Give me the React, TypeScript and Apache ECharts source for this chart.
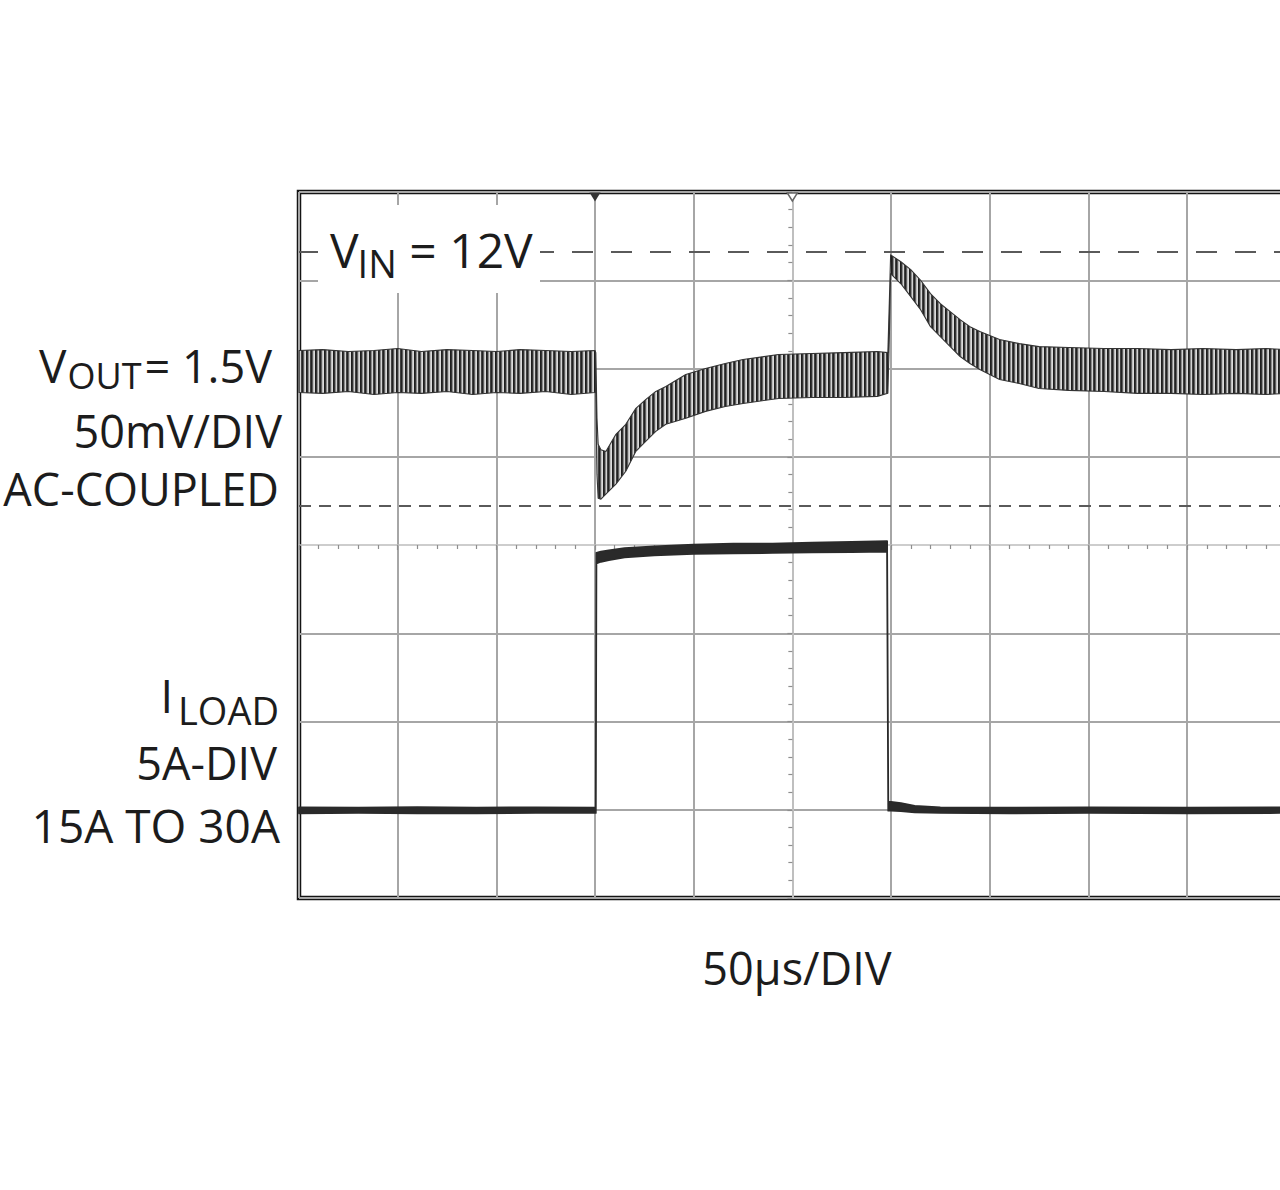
import React, { useEffect, useRef } from "react";
import * as echarts from "echarts";

// ---------------- DATA ----------------
// time axis in µs (50 µs/DIV, 10 divisions)
const timeMin = 0;
const timeMax = 500;
const timeStep = 50;
// VOUT, AC-coupled, mV (50 mV/DIV)
const voutMin = -300;
const voutMax = 100;
const voutStep = 50;
// ILOAD, A (5 A/DIV)
const iloadMin = 10;
const iloadMax = 50;
const iloadStep = 5;

// VOUT ripple envelope (upper / lower edge of the trace), mV
const voutTime = [
  0, 12, 25, 38, 50, 62, 75, 88, 100, 112, 125, 138, 150, 150.4, 151.0, 151.6, 153, 155.5, 160.6,
  165.6, 170.7, 175.8, 180.8, 185.9, 196, 206, 216, 225, 243, 260, 276, 293, 298.4, 299.2, 299.8,
  305, 310, 315, 320, 325, 330, 335, 340, 345, 355, 365, 375, 390, 408, 425, 442, 458, 475, 490, 500,
];
const voutUpper = [
  10.2, 10.7, 9.6, 10.2, 11.3, 9.6, 10.7, 10.2, 9.6, 10.7, 10.2, 9.6, 10.2, 9.0, -28.2, -42.9, -46.0,
  -47.0, -37.3, -31.6, -22.6, -17.5, -13.0, -10.2, -3.4, 0.0, 2.8, 5.1, 7.9, 8.5, 9.0, 9.6, 9.0, 40.0,
  64.4, 60.5, 56.0, 50.0, 42.4, 36.7, 32.2, 27.7, 23.7, 20.9, 16.4, 14.1, 12.4, 11.9, 11.3, 11.3,
  10.7, 11.3, 10.7, 11.3, 10.7,
];
const voutLower = [
  -13.6, -14.1, -13.0, -14.7, -13.6, -14.1, -13.0, -14.7, -13.6, -14.1, -13.0, -14.7, -13.6, -12.0,
  -60.0, -73.5, -74.0, -71.2, -65.5, -58.2, -46.9, -41.2, -35.6, -31.6, -28.2, -24.3, -21.5, -19.8,
  -17.0, -16.4, -16.4, -15.8, -14.0, 20.0, 53.7, 48.0, 40.7, 33.3, 23.7, 18.1, 12.4, 6.8, 2.8, -0.6,
  -6.2, -8.5, -11.3, -12.4, -13.0, -14.1, -14.1, -14.7, -14.1, -14.7, -14.1,
];

// ILOAD trace envelope, A
const iloadTime = [
  0, 30, 60, 90, 120, 150.4, 150.7, 153, 157, 165, 180, 200, 220, 240, 260, 280, 298.0, 298.6, 300,
  305, 312, 325, 360, 400, 450, 500,
];
const iloadUpper = [
  15.14, 15.12, 15.15, 15.12, 15.14, 15.12, 29.55, 29.62, 29.7, 29.82, 29.92, 30.02, 30.07, 30.08,
  30.13, 30.17, 30.22, 15.45, 15.45, 15.38, 15.22, 15.14, 15.12, 15.14, 15.12, 15.14,
];
const iloadLower = [
  14.8, 14.82, 14.8, 14.8, 14.82, 14.82, 28.95, 29.05, 29.15, 29.3, 29.42, 29.5, 29.52, 29.55, 29.58,
  29.6, 29.62, 14.95, 14.95, 14.92, 14.85, 14.82, 14.8, 14.82, 14.8, 14.82,
];

// scope cursors (mV on VOUT scale) and trigger markers (µs)
const cursorPeak = 66;
const cursorDip = -78;
const triggerFilled = 150;
const triggerHollow = 250;

// ---------------- HELPERS ----------------
const FONT = '"Open Sans", "Noto Sans", sans-serif';
const INK = "#1c1c1c";

let measureCtx: CanvasRenderingContext2D | null = null;
function measure(text: string, size: number): number {
  if (!measureCtx) {
    const c = document.createElement("canvas");
    measureCtx = c.getContext("2d");
  }
  if (!measureCtx) return text.length * size * 0.55;
  measureCtx.font = `${size}px "Open Sans"`;
  return measureCtx.measureText(text).width;
}

type Piece = { text: string; size: number; dy?: number; gap?: number };

function label(pieces: Piece[], anchorX: number, baseline: number, align: "left" | "right" | "center") {
  const widths = pieces.map((p) => measure(p.text, p.size));
  const total = widths.reduce((a, b) => a + b, 0) + pieces.reduce((a, p) => a + (p.gap || 0), 0);
  let x = align === "left" ? anchorX : align === "right" ? anchorX - total : anchorX - total / 2;
  return pieces.map((p, i) => {
    x += p.gap || 0;
    const el = {
      type: "text",
      z: 101,
      x,
      y: baseline + (p.dy || 0) - 0.388 * p.size,
      style: {
        text: p.text,
        fontSize: p.size,
        fontFamily: FONT,
        fill: INK,
        textAlign: "left",
        textVerticalAlign: "middle",
      },
    };
    x += widths[i];
    return el;
  });
}

function stripePattern() {
  const cols = ["#1e1e1e", "#333333", "#8a8a8a", "#d2d2d2", "#404040", "#222222", "#5e5e5e", "#bdbdbd", "#dcdcdc"];
  const c = document.createElement("canvas");
  c.width = cols.length;
  c.height = 4;
  const g = c.getContext("2d");
  if (!g) return "#555";
  cols.forEach((col, i) => {
    g.fillStyle = col;
    g.fillRect(i, 0, 1, 4);
  });
  return { image: c, repeat: "repeat" } as any;
}

function bandSeries(times: number[], upper: number[], lower: number[], yAxisIndex: number, fill: any, stroke: string, lw: number) {
  const data = times.map((t, i) => [t, upper[i], lower[i]]);
  return {
    type: "custom",
    xAxisIndex: 0,
    yAxisIndex,
    silent: true,
    z: 3,
    data,
    encode: { x: 0, y: [1, 2] },
    renderItem: (params: any, api: any) => {
      if (params.dataIndex !== 0) return null;
      const top = data.map((d) => api.coord([d[0], d[1]]));
      const bot = data.map((d) => api.coord([d[0], d[2]])).reverse();
      return {
        type: "polygon",
        shape: { points: top.concat(bot) },
        style: { fill, stroke, lineWidth: lw, lineJoin: "round" },
      };
    },
  };
}

export default function App() {
  const ref = useRef<HTMLDivElement>(null);

  useEffect(() => {
    if (!ref.current) return;
    const chart = echarts.init(ref.current, null, { renderer: "svg" });

    const grid = "#a6a6a6";
    const xCount = (timeMax - timeMin) / timeStep + 1;
    const xGridColors = Array.from({ length: xCount }, (_, i) => (i === 5 ? "#c6c6c6" : grid));
    const yCount = (voutMax - voutMin) / voutStep + 1;
    const yGridColors = Array.from({ length: yCount }, (_, i) => (i === 4 ? "rgba(0,0,0,0)" : grid));

    const centerLine = { color: "#bdbdbd", width: 1.5 };
    const tickStyle = { color: "#8e8e8e", width: 1.2 };

    const graphics: any[] = [
      // white box behind the VIN note
      { type: "rect", z: 100, shape: { x: 318, y: 205, width: 222, height: 88 }, style: { fill: "#ffffff" } },
      ...label(
        [
          { text: "V", size: 48 },
          { text: "IN", size: 38, dy: 10, gap: -1 },
          { text: " = 12V", size: 48 },
        ],
        330,
        268,
        "left"
      ),
      ...label(
        [
          { text: "V", size: 46 },
          { text: "OUT", size: 36, dy: 6, gap: 1 },
          { text: "= 1.5V", size: 45, gap: 3 },
        ],
        272,
        383,
        "right"
      ),
      ...label([{ text: "50mV/DIV", size: 45 }], 282, 448, "right"),
      ...label([{ text: "AC-COUPLED", size: 45 }], 279, 506, "right"),
      ...label(
        [
          { text: "I", size: 45 },
          { text: "LOAD", size: 38, dy: 12, gap: 5 },
        ],
        279,
        713,
        "right"
      ),
      ...label([{ text: "5A-DIV", size: 45 }], 277, 780, "right"),
      ...label([{ text: "15A TO 30A", size: 46 }], 280, 843, "right"),
      ...label([{ text: "50\u00b5s/DIV", size: 45 }], 797, 985, "center"),
    ];

    const option: any = {
      animation: false,
      backgroundColor: "#ffffff",
      grid: {
        left: 299,
        top: 192,
        width: 986.7,
        height: 706,
        show: true,
        outerBoundsMode: "none",
        containLabel: false,
        borderColor: "#141414",
        borderWidth: 4.5,
        backgroundColor: "rgba(0,0,0,0)",
      },
      xAxis: [
        {
          type: "value",
          min: timeMin,
          max: timeMax,
          interval: timeStep,
          axisLine: { show: false },
          axisTick: { show: false },
          axisLabel: { show: false },
          splitLine: { show: true, lineStyle: { color: xGridColors, width: 2 } },
        },
        {
          type: "value",
          min: -5,
          max: 5,
          interval: 1,
          position: "bottom",
          axisLine: { show: true, onZero: true, onZeroAxisIndex: 2, lineStyle: centerLine },
          axisTick: { show: true, length: 5, lineStyle: tickStyle },
          minorTick: { show: true, splitNumber: 5, length: 4, lineStyle: tickStyle },
          axisLabel: { show: false },
          splitLine: { show: false },
        },
      ],
      yAxis: [
        {
          type: "value",
          min: voutMin,
          max: voutMax,
          interval: voutStep,
          axisLine: { show: false },
          axisTick: { show: false },
          axisLabel: { show: false },
          splitLine: { show: true, lineStyle: { color: yGridColors, width: 2 } },
        },
        {
          type: "value",
          min: iloadMin,
          max: iloadMax,
          interval: iloadStep,
          axisLine: { show: false },
          axisTick: { show: false },
          axisLabel: { show: false },
          splitLine: { show: false },
        },
        {
          type: "value",
          min: -4,
          max: 4,
          interval: 1,
          position: "left",
          axisLine: { show: true, onZero: true, onZeroAxisIndex: 1, lineStyle: centerLine },
          axisTick: { show: true, length: 5, lineStyle: tickStyle },
          minorTick: { show: true, splitNumber: 5, length: 4, lineStyle: tickStyle },
          axisLabel: { show: false },
          splitLine: { show: false },
        },
      ],
      graphic: graphics,
      series: [
        {
          type: "line",
          name: "cursors",
          xAxisIndex: 0,
          yAxisIndex: 0,
          data: [],
          silent: true,
          markLine: {
            silent: true,
            symbol: "none",
            label: { show: false },
            data: [
              { yAxis: cursorPeak, lineStyle: { color: "#5a5a5a", width: 2, type: [21, 18] } },
              { yAxis: cursorDip, lineStyle: { color: "#5a5a5a", width: 2, type: [12, 8] } },
            ],
          },
          markPoint: {
            silent: true,
            label: { show: false },
            data: [
              {
                coord: [triggerFilled, voutMax],
                symbol: "triangle",
                symbolRotate: 180,
                symbolSize: [11, 9],
                symbolOffset: [0, 5],
                itemStyle: { color: "#333" },
              },
              {
                coord: [triggerHollow, voutMax],
                symbol: "triangle",
                symbolRotate: 180,
                symbolSize: [10, 8],
                symbolOffset: [0, 5],
                itemStyle: { color: "#fff", borderColor: "#666", borderWidth: 1.5 },
              },
            ],
          },
        },
        bandSeries(voutTime, voutUpper, voutLower, 0, stripePattern(), "#333333", 1.1),
        bandSeries(iloadTime, iloadUpper, iloadLower, 1, "#2a2a2a", "#2a2a2a", 1.8),
      ],
    };

    chart.setOption(option);
    return () => chart.dispose();
  }, []);

  return (
    <div
      style={{
        position: "fixed",
        left: 0,
        top: 0,
        width: 1280,
        height: 1190,
        overflow: "hidden",
        background: "#fff",
      }}
    >
      <div ref={ref} style={{ width: 1280, height: 1190 }} />
    </div>
  );
}
